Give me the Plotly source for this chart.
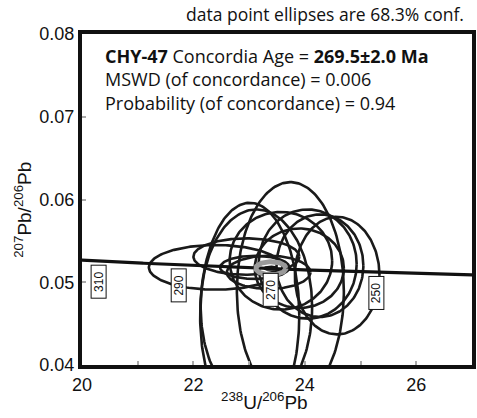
import numpy as np
import plotly.graph_objects as go

# Tera-Wasserburg concordia constants
LAMBDA_238 = 1.55125e-10
LAMBDA_235 = 9.8485e-10
U_RATIO = 137.88

# Age markers along concordia (Ma)
marker_ages = [250, 270, 290, 310]

# Data-point error ellipses (68.3% conf): centres and half-axes
ell_x = [22.40, 22.95, 23.10, 23.35, 23.01, 23.74, 23.13, 24.58, 24.27, 23.57, 23.90, 24.05]
ell_y = [0.0518, 0.0531, 0.0518, 0.0512, 0.0460, 0.0489, 0.0470, 0.0508, 0.0520, 0.0526, 0.0517, 0.0522]
ell_ax = [1.20, 0.95, 0.62, 0.75, 0.89, 0.96, 1.00, 0.76, 0.78, 0.92, 0.80, 0.88]
ell_by = [0.0027, 0.0022, 0.0014, 0.0020, 0.0136, 0.0132, 0.0118, 0.0071, 0.0062, 0.0059, 0.0048, 0.0066]

# Concordia age ellipse
conc_x, conc_y = 23.39, 0.05169
conc_ax, conc_by = 0.27, 0.0008

X_RANGE = [20, 27]
Y_RANGE = [0.04, 0.08]


def tw_point(age_ma):
    t = np.asarray(age_ma, dtype=float) * 1e6
    e238 = np.expm1(LAMBDA_238 * t)
    e235 = np.expm1(LAMBDA_235 * t)
    return 1.0 / e238, e235 / e238 / U_RATIO


def ellipse(cx, cy, ax, by, n=200):
    th = np.linspace(0, 2 * np.pi, n)
    return cx + ax * np.cos(th), cy + by * np.sin(th)


fig = go.Figure()

# Error ellipses
for cx, cy, ax, by in zip(ell_x, ell_y, ell_ax, ell_by):
    ex, ey = ellipse(cx, cy, ax, by)
    fig.add_trace(go.Scatter(x=ex, y=ey, mode="lines",
                             line=dict(color="#1a1a1a", width=2.6),
                             hoverinfo="skip", showlegend=False))

# Concordia curve
ages = np.linspace(225, 320, 300)
cx_curve, cy_curve = tw_point(ages)
fig.add_trace(go.Scatter(x=cx_curve, y=cy_curve, mode="lines",
                         line=dict(color="#111111", width=3.2),
                         hoverinfo="skip", showlegend=False))

# Concordia age ellipse (grey) with its small black core
gx, gy = ellipse(conc_x, conc_y, conc_ax, conc_by)
fig.add_trace(go.Scatter(x=gx, y=gy, mode="lines",
                         line=dict(color="#9a9a9a", width=5),
                         hoverinfo="skip", showlegend=False))
kx, ky = ellipse(conc_x, conc_y, 0.11, 0.00018)
fig.add_trace(go.Scatter(x=kx, y=ky, mode="lines",
                         line=dict(color="#111111", width=2.5),
                         hoverinfo="skip", showlegend=False))

# Age labels on concordia
mx, my = tw_point(marker_ages)
annotations = []
for age, xa, ya in zip(marker_ages, mx, my):
    annotations.append(dict(
        x=xa, y=ya, xref="x", yref="y", text=str(age), showarrow=False,
        textangle=-90, yanchor="top", xanchor="center", yshift=-4,
        width=30, height=12,
        font=dict(family="Liberation Sans", size=12, color="#111111"),
        bgcolor="white", bordercolor="#111111", borderwidth=1, borderpad=1,
    ))

# Header note
annotations.append(dict(
    x=0.985, y=1.06, xref="paper", yref="paper", xanchor="right", yanchor="middle",
    text="data point ellipses are 68.3% conf.", showarrow=False,
    font=dict(family="Open Sans", size=17.5, color="#111111"),
))

# Result text block
annotations.append(dict(
    x=0.053, y=0.976, xref="paper", yref="paper", xanchor="left", yanchor="top",
    align="left", showarrow=False,
    text=("<b>CHY-47</b> Concordia Age = <b>269.5±2.0 Ma</b><br>"
          "MSWD (of concordance) = 0.006<br>"
          "Probability (of concordance) = 0.94"),
    font=dict(family="Open Sans", size=18, color="#111111"),
))

# Axis titles
annotations.append(dict(
    x=-0.152, y=0.468, xref="paper", yref="paper", textangle=-90,
    xanchor="center", yanchor="middle", showarrow=False,
    text="<sup>207</sup>Pb/<sup>206</sup>Pb",
    font=dict(family="Liberation Sans", size=19, color="#111111"),
))
annotations.append(dict(
    x=0.467, y=-0.11, xref="paper", yref="paper",
    xanchor="center", yanchor="middle", showarrow=False,
    text="<sup>238</sup>U/<sup>206</sup>Pb",
    font=dict(family="Liberation Sans", size=19, color="#111111"),
))

x_ticks = list(range(20, 28))
x_text = [str(v) if v % 2 == 0 and v < 27 else "" for v in x_ticks]
y_ticks = [0.04, 0.05, 0.06, 0.07, 0.08]
y_text = ["0.04", "0.05", "0.06", "0.07", "0.08"]

fig.update_layout(
    width=477, height=418,
    margin=dict(l=82, r=1, t=34, b=53),
    paper_bgcolor="white", plot_bgcolor="white",
    annotations=annotations,
    xaxis=dict(range=X_RANGE, tickvals=x_ticks, ticktext=x_text,
               showgrid=False, zeroline=False,
               showline=True, linecolor="#111111", linewidth=4, mirror=True,
               ticks="inside", ticklen=4, tickcolor="#aaaaaa", tickwidth=1.5,
               tickfont=dict(family="Liberation Sans", size=18, color="#111111")),
    yaxis=dict(range=Y_RANGE, tickvals=y_ticks, ticktext=y_text,
               showgrid=False, zeroline=False,
               showline=True, linecolor="#111111", linewidth=4, mirror=True,
               ticks="inside", ticklen=4, tickcolor="#aaaaaa", tickwidth=1.5,
               tickfont=dict(family="Liberation Sans", size=18, color="#111111")),
)

fig.write_html("out.html")
